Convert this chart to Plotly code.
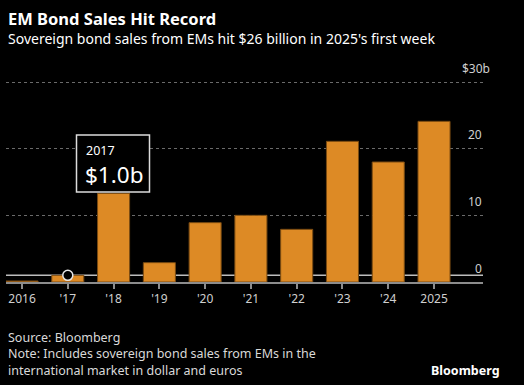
import plotly.graph_objects as go

years = ["2016", "'17", "'18", "'19", "'20", "'21", "'22", "'23", "'24", "2025"]
sales = [0.15, 1.0, 13.3, 2.9, 8.9, 10.0, 7.9, 21.1, 18.0, 24.1]
y_ticks = [0, 10, 20, 30]
y_tick_text = ["0", "10", "20", "$30b"]
hover_year = "'17"
hover_value = 1.0

W, H = 524, 385
L, R, T, B = 6, 41, 80, 103
Y_MAX = 30.3
plot_h = H - T - B
plot_w = W - L - R

def py(pix):
    return (H - B - pix) / plot_h

def px(pix):
    return (pix - L) / plot_w

FONT = "Noto Sans"
fig = go.Figure()
fig.add_trace(go.Bar(
    x=years, y=sales, width=0.7,
    marker=dict(color="#DD8A25", line=dict(color="#7a4b12", width=1)),
    hoverinfo="skip",
))
fig.add_trace(go.Scatter(
    x=[hover_year], y=[hover_value], mode="markers",
    marker=dict(size=10, color="black", line=dict(color="#e6e6e6", width=1.5)),
    hoverinfo="skip",
))

shapes = [
    dict(type="line", xref="paper", x0=0, x1=1, yref="y", y0=hover_value, y1=hover_value,
         line=dict(color="#bdbdbd", width=1.5), layer="below"),
    dict(type="rect", xref="paper", yref="paper", x0=px(76.5), x1=px(149.5), y0=py(192), y1=py(135),
         line=dict(color="#dcdcdc", width=1.5), fillcolor="black", layer="above"),
]

annotations = []
for v, t in zip(y_ticks, y_tick_text):
    annotations.append(dict(
        xref="paper", yref="y", x=px(492) if t.endswith("b") else px(483.5),
        y=v, yshift=14, xanchor="right", yanchor="middle", text=t, showarrow=False,
        font=dict(family=FONT, size=12, color="#cfcfcf")))

annotations += [
    dict(xref="paper", yref="paper", x=0, y=py(19), xanchor="left", yanchor="middle",
         text="<b>EM Bond Sales Hit Record</b>", showarrow=False,
         font=dict(family=FONT, size=16.5, color="white")),
    dict(xref="paper", yref="paper", x=0, y=py(38), xanchor="left", yanchor="middle",
         text="Sovereign bond sales from EMs hit $26 billion in 2025's first week", showarrow=False,
         font=dict(family=FONT, size=14, color="white")),
    dict(xref="paper", yref="paper", x=0, y=py(354), xanchor="left", yanchor="middle",
         text="Source: Bloomberg<br>Note: Includes sovereign bond sales from EMs in the<br>"
              "international market in dollar and euros",
         align="left", showarrow=False,
         font=dict(family=FONT, size=12.5, color="#d9d9d9")),
    dict(xref="paper", yref="paper", x=px(502), y=py(370), xanchor="right", yanchor="middle",
         text="<b>Bloomberg</b>", showarrow=False,
         font=dict(family=FONT, size=12.5, color="white")),
    dict(xref="paper", yref="paper", x=px(84), y=py(150), xanchor="left", yanchor="middle",
         text="2017", showarrow=False,
         font=dict(family=FONT, size=12.5, color="white")),
    dict(xref="paper", yref="paper", x=px(83), y=py(174), xanchor="left", yanchor="middle",
         text="$1.0b", showarrow=False,
         font=dict(family=FONT, size=22.5, color="white")),
]

fig.update_layout(
    width=W, height=H, margin=dict(l=L, r=R, t=T, b=B),
    paper_bgcolor="black", plot_bgcolor="black",
    showlegend=False, shapes=shapes, annotations=annotations,
    bargap=0.3,
    xaxis=dict(type="category", range=[-0.35, 10.07], showgrid=False,
               showline=True, linecolor="#8c8c8c", linewidth=2,
               ticks="outside", ticklen=5, tickwidth=1.5, tickcolor="#8c8c8c",
               tickfont=dict(family=FONT, size=12, color="#cfcfcf"), zeroline=False),
    yaxis=dict(range=[0, Y_MAX], tickvals=y_ticks, showticklabels=False,
               showgrid=True, gridcolor="#6a6a6a", griddash="dot", gridwidth=1,
               zeroline=False, showline=False),
)
fig.write_html("out.html", config={"displayModeBar": False},
               post_script="document.body.style.margin='0';document.body.style.overflow='hidden';")
